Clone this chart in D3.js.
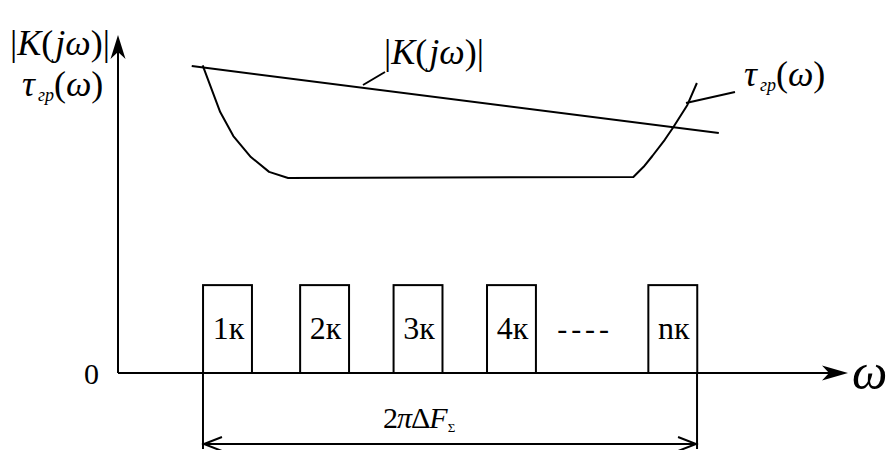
<!DOCTYPE html>
<html><head><meta charset="utf-8">
<script src="https://cdn.jsdelivr.net/npm/d3@7"></script>
<style>
html,body{margin:0;padding:0;background:#fff;}
svg{display:block;}
text{font-family:"Liberation Serif","DejaVu Serif",serif;fill:#000;}
</style></head>
<body>
<svg id="c" width="895" height="450"></svg>
<script>
// ---- data (ω in relative units 0..1000, amplitude 0..100) ----
const channelLabels = ["1к", "2к", "3к", "4к", "nк"];
const channelCenters = [150, 283, 411, 539, 760];
const channelWidth = 67;
const channelHeight = 26;
const kLineU = [101, 823];          // |K(jω)| straight line
const kLineV = [90.8, 71.0];
const tauU = [116, 140, 158, 182, 207, 233, 706, 720, 732, 749, 760, 780, 793];
const tauV = [91, 77.2, 70.1, 63.9, 59.5, 57.7, 58, 61, 64.2, 69, 72.5, 79.3, 85.8];
const bandU = [116.4, 793.2];       // 2πΔFΣ span
const axisMaxU = 1000, axisMaxV = 100;

const svg = d3.select("#c");
const x = d3.scaleLinear().domain([0, 1000]).range([118, 848]);
const y = d3.scaleLinear().domain([0, 100]).range([373, 35]);
const sw = 2;

// axes
svg.append("line").attr("x1", x(0)).attr("y1", y(0)).attr("x2", x(axisMaxU) - 18).attr("y2", y(0))
  .attr("stroke", "#000").attr("stroke-width", sw);
svg.append("line").attr("x1", x(0)).attr("y1", y(0)).attr("x2", x(0)).attr("y2", y(axisMaxV) + 14)
  .attr("stroke", "#000").attr("stroke-width", sw);
{
  const tx = x(axisMaxU), ty = y(0);
  svg.append("path").attr("d", `M${tx},${ty} L${tx-26},${ty-7.5} L${tx-19},${ty} L${tx-26},${ty+7.5} Z`).attr("fill", "#000");
  const ux = x(0), uy = y(axisMaxV);
  svg.append("path").attr("d", `M${ux},${uy} L${ux-7.5},${uy+24} L${ux},${uy+17} L${ux+7.5},${uy+24} Z`).attr("fill", "#000");
}

// channels
const g = svg.append("g");
channelCenters.forEach((c, i) => {
  g.append("rect").attr("x", x(c - channelWidth / 2)).attr("y", y(channelHeight))
    .attr("width", x(c + channelWidth / 2) - x(c - channelWidth / 2)).attr("height", y(0) - y(channelHeight))
    .attr("fill", "none").attr("stroke", "#000").attr("stroke-width", sw);
  g.append("text").attr("x", x(c) + 1).attr("y", y(channelHeight / 2) + 10).attr("text-anchor", "middle")
    .attr("font-size", 32).text(channelLabels[i]);
});
svg.append("text").attr("x", x((channelCenters[3] + channelCenters[4]) / 2) - 7).attr("y", y(channelHeight / 2) + 10)
  .attr("text-anchor", "middle").attr("font-size", 30).attr("letter-spacing", 4).text("----");

// |K(jω)| line
svg.append("line").attr("x1", x(kLineU[0])).attr("y1", y(kLineV[0])).attr("x2", x(kLineU[1])).attr("y2", y(kLineV[1]))
  .attr("stroke", "#000").attr("stroke-width", sw);
// τ curve
const line = d3.line().x((d, i) => x(tauU[i])).y((d, i) => y(tauV[i])).curve(d3.curveLinear);
svg.append("path").attr("d", line(tauU)).attr("fill", "none").attr("stroke", "#000").attr("stroke-width", sw)
  .attr("stroke-linejoin", "round");

// leader lines
svg.append("line").attr("x1", 363).attr("y1", 85).attr("x2", 385).attr("y2", 72).attr("stroke", "#000").attr("stroke-width", sw);
svg.append("line").attr("x1", 686).attr("y1", 103).attr("x2", 735).attr("y2", 92).attr("stroke", "#000").attr("stroke-width", sw);

// band dimension
bandU.forEach(u => {
  svg.append("line").attr("x1", x(u)).attr("y1", y(0)).attr("x2", x(u)).attr("y2", 449)
    .attr("stroke", "#000").attr("stroke-width", sw);
});
{
  const ay = 444, a0 = x(bandU[0]) + 1, a1 = x(bandU[1]) - 1;
  svg.append("line").attr("x1", a0).attr("y1", ay).attr("x2", a1).attr("y2", ay).attr("stroke", "#000").attr("stroke-width", sw);
  svg.append("path").attr("d", `M${a0+18},${ay-7} L${a0},${ay} L${a0+18},${ay+7}`).attr("fill", "none").attr("stroke", "#000").attr("stroke-width", sw);
  svg.append("path").attr("d", `M${a1-18},${ay-7} L${a1},${ay} L${a1-18},${ay+7}`).attr("fill", "none").attr("stroke", "#000").attr("stroke-width", sw);
}

// text labels
function kLabel(px, py, fs) {
  const t = svg.append("text").attr("x", px).attr("y", py).attr("font-size", fs);
  t.append("tspan").text("|");
  t.append("tspan").attr("font-style", "italic").text("K");
  t.append("tspan").text("(");
  t.append("tspan").attr("font-style", "italic").attr("dx", 2).text("jω");
  t.append("tspan").text(")");
  t.append("tspan").text("|");
  return t;
}
function tauLabel(px, py, fs) {
  const t = svg.append("text").attr("x", px).attr("y", py).attr("font-size", fs);
  t.append("tspan").attr("font-style", "italic").text("τ");
  t.append("tspan").attr("font-style", "italic").attr("font-size", fs * 0.5).attr("dy", 5).attr("dx", 3).text("гр");
  t.append("tspan").attr("dy", -5).text("(");
  t.append("tspan").attr("font-style", "italic").text("ω");
  t.append("tspan").text(")");
  return t;
}
kLabel(10, 55, 36);
tauLabel(22, 96, 36);
kLabel(384, 64, 36);
tauLabel(744, 86, 36);

svg.append("text").attr("x", 84).attr("y", 384).attr("font-size", 30).text("0");
svg.append("text").attr("x", 852).attr("y", 389).attr("font-size", 50).attr("font-style", "italic").text("ω");

{
  const t = svg.append("text").attr("x", 383).attr("y", 428).attr("font-size", 30);
  t.append("tspan").text("2");
  t.append("tspan").attr("font-style", "italic").attr("dx", -1).text("π");
  t.append("tspan").attr("dx", -1).text("Δ");
  t.append("tspan").attr("font-style", "italic").attr("dx", -1).text("F");
  t.append("tspan").attr("font-size", 13).attr("dy", 4).text("Σ");
}
</script>
</body></html>
